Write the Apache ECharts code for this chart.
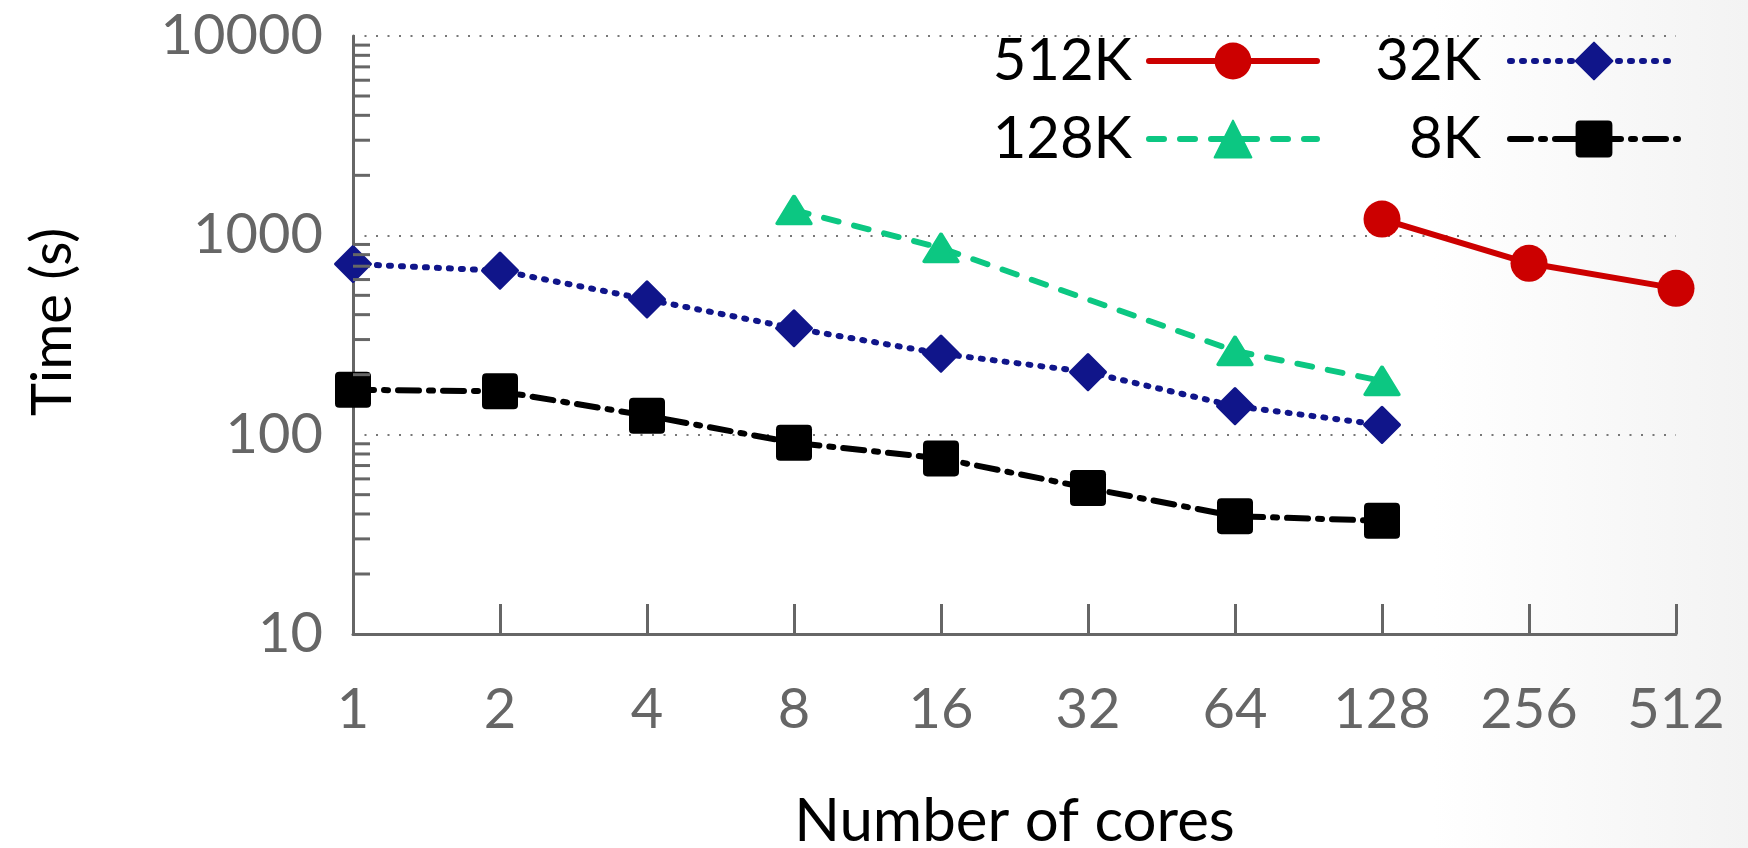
<!DOCTYPE html>
<html>
<head>
<meta charset="utf-8">
<script src="https://cdn.jsdelivr.net/npm/echarts@6/dist/echarts.min.js"></script>
<style>
html,body{margin:0;padding:0;}
body{width:1748px;height:848px;background:linear-gradient(to right,#ffffff 0%,#ffffff 82%,#f3f3f3 100%);}
#chart{width:1748px;height:848px;}
</style>
</head>
<body>
<div id="chart"></div>
<script>
const categories = ['1','2','4','8','16','32','64','128','256','512'];
const s512K = [null,null,null,null,null,null,null,1207,724,542];
const s128K = [null,null,null,1339,864,null,263,186,null,null];
const s32K  = [718,665,477,342,255,206,139,112,null,null];
const s8K   = [168,165,124.5,91,76,54,39,37,null,null];
const yTickLabels = [10,100,1000,10000];
const minorTickValues = [20,30,40,50,60,70,80,90,200,300,400,500,600,700,800,900,2000,3000,4000,5000,6000,7000,8000,9000];

const FONT = 'Lato';
const squarePath = 'path://M12,0 H88 Q100,0 100,12 V88 Q100,100 88,100 H12 Q0,100 0,88 V12 Q0,0 12,0 Z';

const chart = echarts.init(document.getElementById('chart'), null, {renderer:'canvas'});
function legendCfg(data, right, padRight){
  return {
    data:data, right:right,
    orient:'vertical', align:'right', itemWidth:168, itemHeight:46, itemGap:20, padding:0,
    top:32, selectedMode:false,
    lineStyle:{width:6, cap:'round'},
    textStyle:{fontFamily:FONT, fontSize:58, color:'#000', padding:[0,padRight,0,0]}
  };
}
chart.setOption({
  backgroundColor:'transparent',
  animation:false,
  grid:{left:353, right:72, top:36, bottom:214, containLabel:false, outerBoundsMode:'none'},
  legend:[
    legendCfg(['512K','128K'], 428, 12),
    legendCfg(['32K','8K'], 67, 24)
  ],
  xAxis:{
    type:'category', data:categories, boundaryGap:false,
    name:'Number of cores', nameLocation:'middle', nameGap:158,
    nameTextStyle:{fontFamily:FONT, fontSize:60, color:'#000'},
    axisLine:{lineStyle:{color:'#666', width:3}},
    axisTick:{inside:true, length:30, lineStyle:{color:'#666', width:3}},
    axisLabel:{fontFamily:FONT, fontSize:56, color:'#666', margin:48},
    splitLine:{show:false}
  },
  yAxis:{
    type:'log', logBase:10, min:10, max:10000, splitNumber:3,
    name:'Time (s)', nameLocation:'middle', nameGap:272,
    nameTextStyle:{fontFamily:FONT, fontSize:56, color:'#000', padding:[0,0,0,26]},
    axisLine:{show:true, lineStyle:{color:'#666', width:3}},
    axisTick:{inside:true, length:32, lineStyle:{color:'#666', width:3}},
    axisLabel:{fontFamily:FONT, fontSize:56, color:'#666', margin:30,
      formatter:function(v){ return yTickLabels.indexOf(Math.round(v))>=0 ? String(Math.round(v)) : ''; }},
    splitLine:{show:true, lineStyle:{color:'#777', width:2, type:[2,9.5]}}
  },
  series:[
    {name:'512K', type:'line', data:s512K, z:4, symbol:'circle', symbolSize:37,
     lineStyle:{color:'#cc0000', width:6, type:'solid', cap:'round'},
     itemStyle:{color:'#cc0000'}},
    {name:'128K', type:'line', data:s128K, connectNulls:true, z:3, symbol:'triangle', symbolSize:[33,27],
     lineStyle:{color:'#0cc782', width:6, type:[15,16], cap:'round'},
     itemStyle:{color:'#0cc782', borderColor:'#0cc782', borderWidth:4, borderJoin:'round'}},
    {name:'32K', type:'line', data:s32K, z:3, symbol:'diamond', symbolSize:[35,35],
     lineStyle:{color:'#10158a', width:6, type:[2,10], cap:'round'},
     itemStyle:{color:'#10158a', borderColor:'#10158a', borderWidth:3, borderJoin:'round'}},
    {name:'8K', type:'line', data:s8K, z:3, symbol:squarePath, symbolSize:36,
     lineStyle:{color:'#000', width:6, type:[21,10,4,10], cap:'round'},
     itemStyle:{color:'#000'}},
    {name:'minorTicks', type:'custom', silent:true, z:6, clip:false,
     data:minorTickValues.map(function(v){return [0,v];}),
     renderItem:function(params, api){
       const p = api.coord([0, api.value(1)]);
       return {type:'line', shape:{x1:p[0], y1:p[1], x2:p[0]+17, y2:p[1]},
               style:{stroke:'#666', lineWidth:3}};
     }}
  ]
});
</script>
</body>
</html>
